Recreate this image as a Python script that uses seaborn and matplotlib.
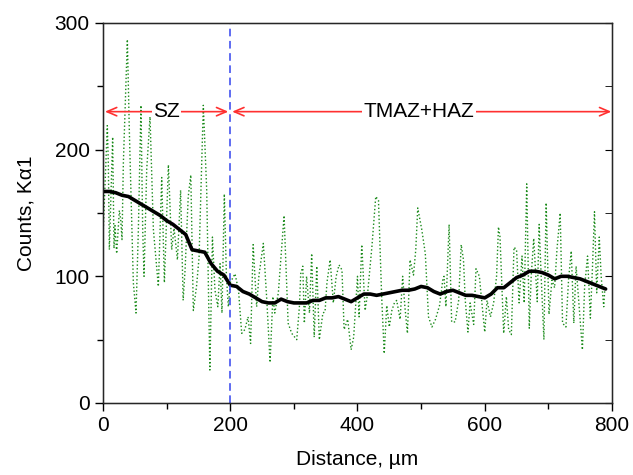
import numpy as np
import pandas as pd
import matplotlib
matplotlib.use("Agg")
import matplotlib.pyplot as plt
import seaborn as sns
from matplotlib.ticker import MultipleLocator

# raw line scan (green dotted)
distance_raw = [0.5, 6.8, 8.4, 10, 15.2, 17.3, 18.9, 21.5, 25.7, 27.8, 29.9, 32, 38.3, 41.4,
                47.7, 51.9, 55.6, 59.7, 62.4, 64.5, 68.7, 73.9, 79.2, 87, 92.3, 96.5, 102.8,
                108, 111.7, 117, 122, 126, 129, 134, 138, 142, 147, 151, 157.7, 163, 168, 172,
                176, 180.5, 184, 187, 190.7, 194, 197, 200, 207.5, 213, 218, 223, 228, 232,
                236, 241.5, 245, 252, 257.5, 262.6, 267, 270, 275.6, 284.6, 291, 296.6, 304.5,
                308.7, 310.8, 314, 316.5, 320, 324.5, 328, 332, 336, 340, 345.6, 349, 352, 357,
                362, 366.5, 371, 375.6, 379, 384.6, 390, 394, 400, 402.5, 406.7, 412, 416,
                422.6, 428.7, 433, 438, 442, 446, 450, 454, 458, 461.6, 467, 471, 474.5, 478.5,
                482.6, 488, 491.6, 494.7, 501, 506.6, 511.6, 517, 522.6, 529, 534, 536, 539,
                544, 548, 553.5, 559, 563, 566.6, 569.4, 573.6, 577, 582.6, 586.3, 591.6, 594,
                600, 603.6, 609, 614, 618.6, 621.6, 624, 629.8, 634, 637.6, 641.8, 646, 650,
                654, 658.6, 662, 666, 670, 673, 677, 682.5, 685.5, 688.7, 693, 696.5, 701,
                705.6, 709.8, 713.5, 718.6, 722.3, 727.6, 731.8, 736, 740, 743.6, 748, 753.5,
                757, 761.6, 766, 769.4, 772.5, 776, 780, 783, 787, 789]
counts_raw = [137, 219, 189, 121, 210, 122, 140, 118, 152, 145, 129, 189, 287, 215,
              95, 71, 137, 235, 137, 100, 184, 226, 137, 92, 178, 95, 188,
              121, 138, 113, 168, 81, 105, 163, 180, 73, 92, 115, 235, 168, 26, 131,
              89, 76, 110, 71, 165, 100, 76, 95, 102, 89, 55, 58, 68, 47,
              125, 76, 100, 126, 81, 32, 84, 71, 87, 148, 63, 55, 50,
              76, 102, 108, 63, 100, 71, 118, 52, 108, 50, 71, 72, 95, 113,
              79, 100, 109, 105, 58, 66, 42, 52, 100, 68, 125, 73, 87,
              123, 163, 160, 84, 39, 77, 60, 73, 79, 81, 66, 100, 76, 55,
              113, 101, 121, 154, 137, 118, 68, 60, 66, 77, 97, 100, 76,
              141, 64, 64, 81, 125, 113, 81, 56, 79, 62, 106, 100, 87,
              56, 81, 68, 79, 100, 139, 131, 55, 84, 58, 54, 123, 121,
              79, 116, 79, 173, 59, 100, 130, 80, 141, 100, 50, 158, 70,
              97, 91, 121, 150, 63, 60, 98, 120, 63, 108, 79, 42,
              92, 116, 67, 108, 151, 87, 131, 100, 76, 92]

# smoothed profile (black)
distance_smooth = list(range(0, 800, 10))
counts_smooth = [167, 167, 166, 164, 163, 160, 157, 154, 151, 148, 144, 141, 137, 133, 121, 120,
                 119, 110, 104, 101, 93, 92, 88, 86, 83, 80, 79, 79, 82, 80, 79, 79, 79, 81, 81,
                 83, 83, 84, 82, 80, 83, 86, 86, 85, 86, 87, 88, 89, 89, 90, 92, 91, 88, 86, 88,
                 89, 87, 85, 85, 84, 83, 86, 91, 91, 95, 99, 101, 104, 104, 103, 101, 98, 100,
                 100, 99, 98, 96, 94, 92, 90]

raw = pd.DataFrame({'Distance': distance_raw, 'Counts': counts_raw})
smooth = pd.DataFrame({'Distance': distance_smooth, 'Counts': counts_smooth})

sns.set_style("ticks")
plt.rcParams['font.family'] = ['Liberation Sans', 'DejaVu Sans']
plt.rcParams['text.color'] = 'black'
plt.rcParams['axes.labelcolor'] = 'black'
plt.rcParams['xtick.color'] = 'black'
plt.rcParams['ytick.color'] = 'black'

fig = plt.figure(figsize=(6.33, 4.75), dpi=100)
ax = fig.add_axes([0.1627, 0.1516, 0.8041, 0.8])

sns.lineplot(data=raw, x='Distance', y='Counts', ax=ax, color='#1a8a1a',
             linestyle=':', linewidth=1.0, sort=False)
sns.lineplot(data=smooth, x='Distance', y='Counts', ax=ax, color='black',
             linewidth=2.6, sort=False)

ax.axvline(200, color='#3344ee', linestyle='--', linewidth=1.1, dashes=(5, 3))

arrow = dict(arrowstyle='<->,head_length=0.7,head_width=0.3', color='#ff3030', lw=1.2,
             shrinkA=0, shrinkB=0)
ax.annotate('', xy=(3, 230), xytext=(197, 230), arrowprops=arrow)
ax.annotate('', xy=(203, 230), xytext=(799, 230), arrowprops=arrow)
ax.text(100, 230, 'SZ', ha='center', va='center', fontsize=15,
        bbox=dict(facecolor='white', edgecolor='none', pad=1))
ax.text(497, 230, 'TMAZ+HAZ', ha='center', va='center', fontsize=15,
        bbox=dict(facecolor='white', edgecolor='none', pad=1))

ax.set_xlim(0, 800)
ax.set_ylim(0, 300)
ax.xaxis.set_major_locator(MultipleLocator(200))
ax.xaxis.set_minor_locator(MultipleLocator(100))
ax.yaxis.set_major_locator(MultipleLocator(100))
ax.yaxis.set_minor_locator(MultipleLocator(50))
ax.tick_params(which='both', direction='out', top=False, right=False, labelsize=15,
               color='black', labelcolor='black', width=1)
ax.tick_params(which='major', length=6)
ax.tick_params(which='minor', length=4)
for s in ax.spines.values():
    s.set_visible(True)
    s.set_color('black')
    s.set_linewidth(1)

# inward ticks on the right edge
ax2 = ax.twinx()
ax2.set_ylim(0, 300)
ax2.yaxis.set_major_locator(MultipleLocator(100))
ax2.yaxis.set_minor_locator(MultipleLocator(50))
ax2.tick_params(which='both', direction='in', labelright=False, length=5, color='black')

ax.set_xlabel('Distance, µm', fontsize=15, labelpad=11)
ax.set_ylabel('Counts, Kα1', fontsize=15, labelpad=14)

fig.savefig('out.png', dpi=100)
